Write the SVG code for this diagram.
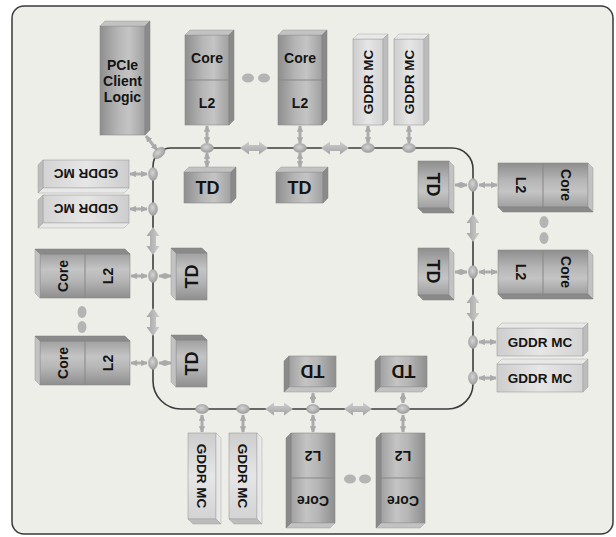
<svg xmlns="http://www.w3.org/2000/svg" width="616" height="537" viewBox="0 0 616 537">
<defs>
<style>
.t{font-family:"Liberation Sans",Arial,sans-serif;font-weight:bold;fill:#141414;text-anchor:middle}
.s14{font-size:14px}
.s18{font-size:18px}
.s13{font-size:13.5px}
.cf{fill:url(#gc);stroke:#8a8a8a;stroke-width:.6}
.gf{fill:url(#gg);stroke:#9c9c9c;stroke-width:.6}
.ct{fill:#c2c2c2;stroke:#9a9a9a;stroke-width:.5}
.cs{fill:#8a8a8a;stroke:#7e7e7e;stroke-width:.5}
.gt{fill:#e8e8e8;stroke:#a8a8a8;stroke-width:.5}
.gs{fill:#bcbcbc;stroke:#a0a0a0;stroke-width:.5}
.dv{stroke:#878787;stroke-width:1}
.ring{fill:none;stroke:#3c3c3c;stroke-width:1.6}
.sa{stroke:#adadad;stroke-width:3;fill:none}
.jn{fill:url(#gj);stroke:#9a9a9a;stroke-width:.5}
.ba{fill:url(#gb)}
.dot{fill:#b4b4b4}
</style>
<linearGradient id="gc" x1="0" y1="0" x2="1" y2="0">
<stop offset="0" stop-color="#8e8e8e"/><stop offset=".4" stop-color="#b6b6b6"/><stop offset=".65" stop-color="#c4c4c4"/><stop offset="1" stop-color="#a0a0a0"/>
</linearGradient>
<linearGradient id="gg" x1="0" y1="0" x2="1" y2="0">
<stop offset="0" stop-color="#cdcdcd"/><stop offset=".5" stop-color="#e6e6e6"/><stop offset="1" stop-color="#d3d3d3"/>
</linearGradient>
<radialGradient id="gj" cx=".45" cy=".4" r=".6">
<stop offset="0" stop-color="#d4d4d4"/><stop offset="1" stop-color="#9e9e9e"/>
</radialGradient>
<linearGradient id="gb" x1="0" y1="0" x2="0" y2="1">
<stop offset="0" stop-color="#cdcdcd"/><stop offset=".5" stop-color="#b9b9b9"/><stop offset="1" stop-color="#a2a2a2"/>
</linearGradient>
<marker id="ah" viewBox="0 0 10 10" refX="9" refY="5" markerWidth="6.5" markerHeight="6.5" markerUnits="userSpaceOnUse" orient="auto-start-reverse">
<path d="M0,0 L10,5 L0,10 Z" fill="#a9a9a9"/>
</marker>
<path id="big" d="M-14,0 L-5,-6.5 L-5,-3 L5,-3 L5,-6.5 L14,0 L5,6.5 L5,3 L-5,3 L-5,6.5 Z"/>
</defs>

<rect x="12" y="6" width="601" height="528" rx="12" fill="#eeeee9" stroke="#3a3a3a" stroke-width="1.5"/>

<!-- connectors -->
<g id="connectors">
<path class="ring" d="M171,148 H452 A21,21 0 0 1 473,169 V384 A25,25 0 0 1 448,409 H181 A28,28 0 0 1 153,381 V166 A18,18 0 0 1 171,148 Z"/>
<g class="ba">
<use href="#big" transform="translate(254,148)"/>
<use href="#big" transform="translate(335,148)"/>
<use href="#big" transform="translate(279,409)"/>
<use href="#big" transform="translate(358,409)"/>
<use href="#big" transform="translate(153,241) rotate(90)"/>
<use href="#big" transform="translate(153,322) rotate(90)"/>
<use href="#big" transform="translate(473,228) rotate(90)"/>
<use href="#big" transform="translate(473,308) rotate(90)"/>
</g>
<g class="sa" marker-start="url(#ah)" marker-end="url(#ah)">
<line x1="157" y1="150" x2="146" y2="136"/>
<line x1="207" y1="126" x2="207" y2="143"/>
<line x1="207" y1="153" x2="207" y2="167"/>
<line x1="300" y1="126" x2="300" y2="143"/>
<line x1="300" y1="153" x2="300" y2="167"/>
<line x1="368" y1="126" x2="368" y2="143"/>
<line x1="409" y1="126" x2="409" y2="143"/>
<line x1="130" y1="174" x2="147" y2="174"/>
<line x1="130" y1="209" x2="147" y2="209"/>
<line x1="131" y1="276" x2="147" y2="276"/>
<line x1="159" y1="276" x2="171" y2="276"/>
<line x1="131" y1="363" x2="147" y2="363"/>
<line x1="159" y1="363" x2="171" y2="363"/>
<line x1="455" y1="185" x2="467" y2="185"/>
<line x1="479" y1="185" x2="497" y2="185"/>
<line x1="455" y1="272" x2="467" y2="272"/>
<line x1="479" y1="272" x2="497" y2="272"/>
<line x1="479" y1="342" x2="496" y2="342"/>
<line x1="479" y1="378" x2="496" y2="378"/>
<line x1="313" y1="393" x2="313" y2="403"/>
<line x1="313" y1="415" x2="313" y2="432"/>
<line x1="403" y1="393" x2="403" y2="403"/>
<line x1="403" y1="415" x2="403" y2="432"/>
<line x1="202" y1="415" x2="202" y2="432"/>
<line x1="243" y1="415" x2="243" y2="432"/>
</g>
<g class="jn">
<ellipse cx="159" cy="153" rx="7" ry="4.5" transform="rotate(-40 159 153)"/>
<ellipse cx="207" cy="148" rx="6.5" ry="4.5"/>
<ellipse cx="300" cy="148" rx="6.5" ry="4.5"/>
<ellipse cx="368" cy="148" rx="6.5" ry="4.5"/>
<ellipse cx="409" cy="148" rx="6.5" ry="4.5"/>
<ellipse cx="153" cy="174" rx="4.5" ry="6.5"/>
<ellipse cx="153" cy="209" rx="4.5" ry="6.5"/>
<ellipse cx="153" cy="276" rx="4.5" ry="6.5"/>
<ellipse cx="153" cy="363" rx="4.5" ry="6.5"/>
<ellipse cx="473" cy="185" rx="4.5" ry="6.5"/>
<ellipse cx="473" cy="272" rx="4.5" ry="6.5"/>
<ellipse cx="473" cy="342" rx="4.5" ry="6.5"/>
<ellipse cx="473" cy="378" rx="4.5" ry="6.5"/>
<ellipse cx="202" cy="409" rx="6.5" ry="4.5"/>
<ellipse cx="243" cy="409" rx="6.5" ry="4.5"/>
<ellipse cx="313" cy="409" rx="6.5" ry="4.5"/>
<ellipse cx="403" cy="409" rx="6.5" ry="4.5"/>
</g>
</g>

<!-- PCIe -->
<g id="pcie" transform="translate(100,26)">
<rect class="cf" width="45" height="109"/>
<polygon class="ct" points="0,0 5,-5 50,-5 45,0"/>
<polygon class="cs" points="45,0 50,-5 50,104 45,109"/>
<text class="t s14" x="22.5" y="44">PCIe</text>
<text class="t s14" x="22.5" y="60">Client</text>
<text class="t s14" x="22.5" y="76">Logic</text>
</g>

<!-- Cores -->
<g id="core-top-1" transform="translate(185,35)">
<rect class="cf" width="44" height="90"/>
<polygon class="ct" points="0,0 5,-5 49,-5 44,0"/>
<polygon class="cs" points="44,0 49,-5 49,85 44,90"/>
<line class="dv" x1="0" y1="45" x2="44" y2="45"/>
<text class="t s14" x="22" y="27.5">Core</text>
<text class="t s14" x="22" y="72.5">L2</text>
</g>
<g id="core-top-2" transform="translate(278,35)">
<rect class="cf" width="44" height="90"/>
<polygon class="ct" points="0,0 5,-5 49,-5 44,0"/>
<polygon class="cs" points="44,0 49,-5 49,85 44,90"/>
<line class="dv" x1="0" y1="45" x2="44" y2="45"/>
<text class="t s14" x="22" y="27.5">Core</text>
<text class="t s14" x="22" y="72.5">L2</text>
</g>
<g id="core-right-1" transform="translate(588,163) rotate(90)">
<rect class="cf" width="44" height="90"/>
<polygon class="ct" points="0,0 5,-5 49,-5 44,0"/>
<polygon class="cs" points="44,0 49,-5 49,85 44,90"/>
<line class="dv" x1="0" y1="45" x2="44" y2="45"/>
<text class="t s14" x="22" y="27.5">Core</text>
<text class="t s14" x="22" y="72.5">L2</text>
</g>
<g id="core-right-2" transform="translate(588,250) rotate(90)">
<rect class="cf" width="44" height="90"/>
<polygon class="ct" points="0,0 5,-5 49,-5 44,0"/>
<polygon class="cs" points="44,0 49,-5 49,85 44,90"/>
<line class="dv" x1="0" y1="45" x2="44" y2="45"/>
<text class="t s14" x="22" y="27.5">Core</text>
<text class="t s14" x="22" y="72.5">L2</text>
</g>
<g id="core-left-1" transform="translate(40,298) rotate(-90)">
<rect class="cf" width="44" height="90"/>
<polygon class="ct" points="0,0 5,-5 49,-5 44,0"/>
<polygon class="cs" points="44,0 49,-5 49,85 44,90"/>
<line class="dv" x1="0" y1="45" x2="44" y2="45"/>
<text class="t s14" x="22" y="27.5">Core</text>
<text class="t s14" x="22" y="72.5">L2</text>
</g>
<g id="core-left-2" transform="translate(40,385) rotate(-90)">
<rect class="cf" width="44" height="90"/>
<polygon class="ct" points="0,0 5,-5 49,-5 44,0"/>
<polygon class="cs" points="44,0 49,-5 49,85 44,90"/>
<line class="dv" x1="0" y1="45" x2="44" y2="45"/>
<text class="t s14" x="22" y="27.5">Core</text>
<text class="t s14" x="22" y="72.5">L2</text>
</g>
<g id="core-bottom-1" transform="translate(335,523) rotate(180)">
<rect class="cf" width="44" height="90"/>
<polygon class="ct" points="0,0 5,-5 49,-5 44,0"/>
<polygon class="cs" points="44,0 49,-5 49,85 44,90"/>
<line class="dv" x1="0" y1="45" x2="44" y2="45"/>
<text class="t s14" x="22" y="27.5">Core</text>
<text class="t s14" x="22" y="72.5">L2</text>
</g>
<g id="core-bottom-2" transform="translate(425,523) rotate(180)">
<rect class="cf" width="44" height="90"/>
<polygon class="ct" points="0,0 5,-5 49,-5 44,0"/>
<polygon class="cs" points="44,0 49,-5 49,85 44,90"/>
<line class="dv" x1="0" y1="45" x2="44" y2="45"/>
<text class="t s14" x="22" y="27.5">Core</text>
<text class="t s14" x="22" y="72.5">L2</text>
</g>

<!-- TDs -->
<g id="td-top-1" transform="translate(184,172)">
<rect class="cf" width="47" height="31"/>
<polygon class="ct" points="0,0 5,-5 52,-5 47,0"/>
<polygon class="cs" points="47,0 52,-5 52,26 47,31"/>
<text class="t s18" x="23.5" y="22">TD</text>
</g>
<g id="td-top-2" transform="translate(276,172)">
<rect class="cf" width="47" height="31"/>
<polygon class="ct" points="0,0 5,-5 52,-5 47,0"/>
<polygon class="cs" points="47,0 52,-5 52,26 47,31"/>
<text class="t s18" x="23.5" y="22">TD</text>
</g>
<g id="td-right-1" transform="translate(449,161) rotate(90)">
<rect class="cf" width="47" height="31"/>
<polygon class="ct" points="0,0 5,-5 52,-5 47,0"/>
<polygon class="cs" points="47,0 52,-5 52,26 47,31"/>
<text class="t s18" x="23.5" y="22">TD</text>
</g>
<g id="td-right-2" transform="translate(449,248) rotate(90)">
<rect class="cf" width="47" height="31"/>
<polygon class="ct" points="0,0 5,-5 52,-5 47,0"/>
<polygon class="cs" points="47,0 52,-5 52,26 47,31"/>
<text class="t s18" x="23.5" y="22">TD</text>
</g>
<g id="td-left-1" transform="translate(176,300) rotate(-90)">
<rect class="cf" width="47" height="31"/>
<polygon class="ct" points="0,0 5,-5 52,-5 47,0"/>
<polygon class="cs" points="47,0 52,-5 52,26 47,31"/>
<text class="t s18" x="23.5" y="22">TD</text>
</g>
<g id="td-left-2" transform="translate(176,387) rotate(-90)">
<rect class="cf" width="47" height="31"/>
<polygon class="ct" points="0,0 5,-5 52,-5 47,0"/>
<polygon class="cs" points="47,0 52,-5 52,26 47,31"/>
<text class="t s18" x="23.5" y="22">TD</text>
</g>
<g id="td-bottom-1" transform="translate(336,387) rotate(180)">
<rect class="cf" width="47" height="31"/>
<polygon class="ct" points="0,0 5,-5 52,-5 47,0"/>
<polygon class="cs" points="47,0 52,-5 52,26 47,31"/>
<text class="t s18" x="23.5" y="22">TD</text>
</g>
<g id="td-bottom-2" transform="translate(427,387) rotate(180)">
<rect class="cf" width="47" height="31"/>
<polygon class="ct" points="0,0 5,-5 52,-5 47,0"/>
<polygon class="cs" points="47,0 52,-5 52,26 47,31"/>
<text class="t s18" x="23.5" y="22">TD</text>
</g>

<!-- GDDR MCs -->
<g id="gddr-top-1" transform="translate(353,39)">
<rect class="gf" width="30" height="86"/>
<polygon class="gt" points="0,0 5,-5 35,-5 30,0"/>
<polygon class="gs" points="30,0 35,-5 35,81 30,86"/>
<text class="t s13" transform="translate(15,43) rotate(-90)" y="5">GDDR MC</text>
</g>
<g id="gddr-top-2" transform="translate(394,39)">
<rect class="gf" width="30" height="86"/>
<polygon class="gt" points="0,0 5,-5 35,-5 30,0"/>
<polygon class="gs" points="30,0 35,-5 35,81 30,86"/>
<text class="t s13" transform="translate(15,43) rotate(-90)" y="5">GDDR MC</text>
</g>
<g id="gddr-right-1" transform="translate(497,328)">
<rect class="gf" width="86" height="28"/>
<polygon class="gt" points="0,0 5,-5 91,-5 86,0"/>
<polygon class="gs" points="86,0 91,-5 91,23 86,28"/>
<text class="t s13" x="43" y="19">GDDR MC</text>
</g>
<g id="gddr-right-2" transform="translate(497,364)">
<rect class="gf" width="86" height="28"/>
<polygon class="gt" points="0,0 5,-5 91,-5 86,0"/>
<polygon class="gs" points="86,0 91,-5 91,23 86,28"/>
<text class="t s13" x="43" y="19">GDDR MC</text>
</g>
<g id="gddr-left-1" transform="translate(129,188) rotate(180)">
<rect class="gf" width="86" height="28"/>
<polygon class="gt" points="0,0 5,-5 91,-5 86,0"/>
<polygon class="gs" points="86,0 91,-5 91,23 86,28"/>
<text class="t s13" x="43" y="19">GDDR MC</text>
</g>
<g id="gddr-left-2" transform="translate(129,223) rotate(180)">
<rect class="gf" width="86" height="28"/>
<polygon class="gt" points="0,0 5,-5 91,-5 86,0"/>
<polygon class="gs" points="86,0 91,-5 91,23 86,28"/>
<text class="t s13" x="43" y="19">GDDR MC</text>
</g>
<g id="gddr-bottom-1" transform="translate(216,433) rotate(90)">
<rect class="gf" width="86" height="28"/>
<polygon class="gt" points="0,0 5,-5 91,-5 86,0"/>
<polygon class="gs" points="86,0 91,-5 91,23 86,28"/>
<text class="t s13" x="43" y="19">GDDR MC</text>
</g>
<g id="gddr-bottom-2" transform="translate(257,433) rotate(90)">
<rect class="gf" width="86" height="28"/>
<polygon class="gt" points="0,0 5,-5 91,-5 86,0"/>
<polygon class="gs" points="86,0 91,-5 91,23 86,28"/>
<text class="t s13" x="43" y="19">GDDR MC</text>
</g>

<!-- ellipsis dots -->
<g id="ellipses" class="dot">
<ellipse cx="248" cy="78" rx="6" ry="4.5"/>
<ellipse cx="264" cy="78" rx="6" ry="4.5"/>
<ellipse cx="544" cy="222" rx="4.5" ry="6"/>
<ellipse cx="544" cy="238" rx="4.5" ry="6"/>
<ellipse cx="82" cy="312" rx="4.5" ry="6"/>
<ellipse cx="82" cy="327" rx="4.5" ry="6"/>
<ellipse cx="350" cy="479" rx="6" ry="4.5"/>
<ellipse cx="365" cy="479" rx="6" ry="4.5"/>
</g>
</svg>
